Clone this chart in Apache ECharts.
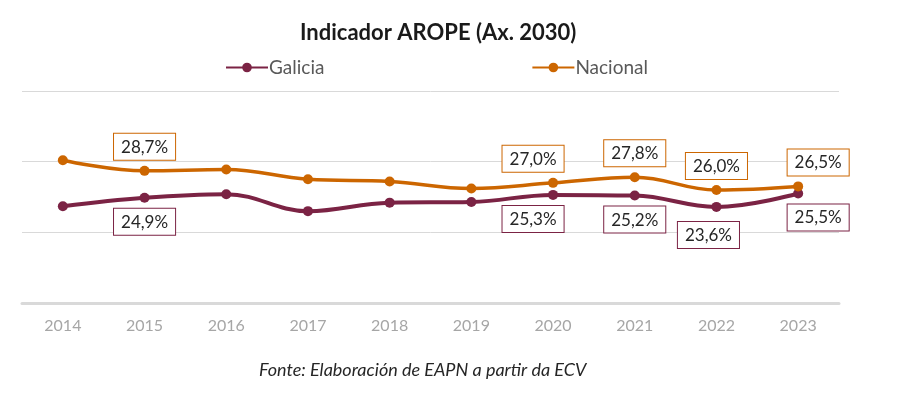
<!DOCTYPE html>
<html>
<head>
<meta charset="utf-8">
<script src="https://cdn.jsdelivr.net/npm/echarts@6/dist/echarts.min.js"></script>
<style>
html,body{margin:0;padding:0;background:#fff;}
#chart{width:897px;height:393px;}
</style>
</head>
<body>
<div id="chart"></div>
<script>
const years = ['2014','2015','2016','2017','2018','2019','2020','2021','2022','2023'];
const galicia = [23.7, 24.9, 25.4, 23.0, 24.2, 24.3, 25.3, 25.2, 23.6, 25.5];
const nacional = [30.2, 28.7, 28.9, 27.5, 27.2, 26.2, 27.0, 27.8, 26.0, 26.5];
const labeledYears = ['2015','2020','2021','2022','2023'];
const titleText = 'Indicador AROPE (Ax. 2030)';
const sourceText = 'Fonte: Elaboración de EAPN a partir da ECV';

const FONT = 'Lato';
const cGal = '#7B2344';
const cNac = '#CC6600';

function fmt(v){ return v.toFixed(1).replace('.', ',') + '%'; }

function labelOffset(year, isTop){
  if (year === '2020') return [-20, 0];
  if (year === '2023') return [20, 0];
  if (year === '2022' && !isTop) return [-8, 4];
  return [0, 0];
}

function buildData(values, color, isTop){
  return values.map((v, i) => {
    const y = years[i];
    const show = labeledYears.indexOf(y) >= 0;
    return {
      value: v,
      label: {
        show: show,
        position: isTop ? 'top' : 'bottom',
        distance: 6,
        offset: show ? labelOffset(y, isTop) : [0,0],
        formatter: p => fmt(p.value),
        color: '#262626',
        fontFamily: FONT,
        fontSize: 17,
        backgroundColor: '#fff',
        borderColor: color,
        borderWidth: 1,
        padding: [5, 7, 4, 7]
      }
    };
  });
}

const chart = echarts.init(document.getElementById('chart'), null, {renderer: 'canvas'});
chart.setOption({
  animation: false,
  backgroundColor: '#fff',
  title: [{
    text: titleText,
    left: 295,
    top: 17,
    textStyle: {fontFamily: FONT, fontWeight: 'bold', fontSize: 22, color: '#1a1a1a'}
  }, {
    text: sourceText,
    left: 254,
    top: 356,
    textStyle: {fontFamily: FONT, fontStyle: 'italic', fontWeight: 'normal', fontSize: 18, color: '#262626'}
  }],
  legend: {
    left: 220,
    top: 53,
    itemWidth: 42,
    itemHeight: 12,
    itemGap: 207,
    textStyle: {fontFamily: FONT, fontSize: 19, color: '#595959', padding: [0,0,0,-4]},
    data: ['Galicia', 'Nacional']
  },
  grid: {left: 22, right: 58, top: 91, bottom: 90},
  xAxis: {
    type: 'category',
    data: years,
    boundaryGap: true,
    axisLine: {lineStyle: {color: '#d9d9d9', width: 3}},
    axisTick: {show: false},
    axisLabel: {color: '#a6a6a6', fontFamily: FONT, fontSize: 16, margin: 15}
  },
  yAxis: {
    type: 'value',
    min: 10, max: 40, interval: 10,
    axisLabel: {show: false},
    axisLine: {show: false},
    axisTick: {show: false},
    splitLine: {lineStyle: {color: '#d9d9d9', width: 1}}
  },
  series: [{
    name: 'Galicia',
    type: 'line',
    smooth: 0.4,
    symbol: 'circle',
    symbolSize: 10,
    itemStyle: {color: cGal},
    lineStyle: {color: cGal, width: 4},
    data: buildData(galicia, cGal, false),
    z: 3
  }, {
    name: 'Nacional',
    type: 'line',
    smooth: 0.4,
    symbol: 'circle',
    symbolSize: 10,
    itemStyle: {color: cNac},
    lineStyle: {color: cNac, width: 3.5},
    data: buildData(nacional, cNac, true),
    z: 4
  }]
});
</script>
</body>
</html>
